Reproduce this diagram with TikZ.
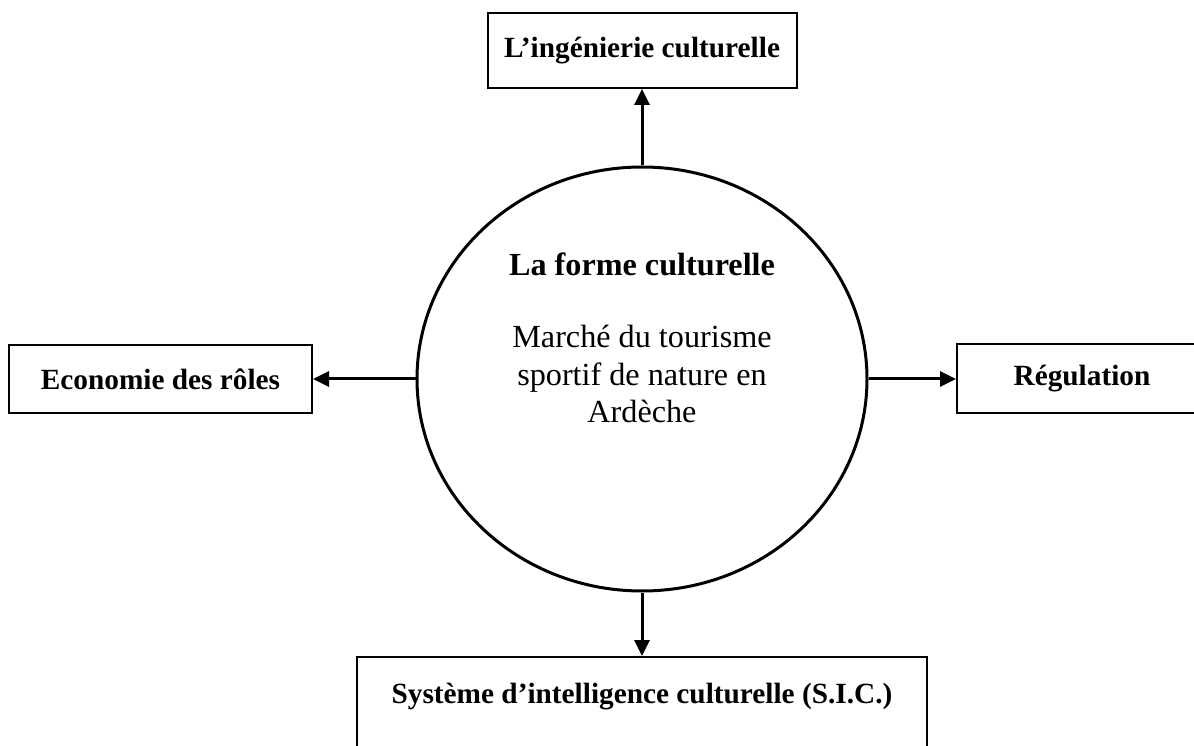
\documentclass[tikz,border=0pt]{standalone}
\usepackage{fontspec}
\setmainfont{Liberation Serif}
\usetikzlibrary{shapes.geometric,arrows.meta}

\begin{document}
\begin{tikzpicture}[x=1pt,y=1pt,
  box/.style={draw,line width=2pt,inner sep=0pt,font=\fontsize{29.3}{37.5}\selectfont\bfseries},
  link/.style={-{Triangle[length=16pt,width=15pt]},line width=3pt}]
  \useasboundingbox (0,0) rectangle (1194,745);
  \clip (0,0) rectangle (1194,745);
  \node[draw,ellipse,line width=3pt,minimum width=450pt,minimum height=424pt] (forme) at (642,366) {};
  \node[align=center,anchor=north,inner sep=0pt,font=\fontsize{32.2}{37.5}\selectfont] (marche) at (642,492) {\textbf{La forme culturelle}\\[34.5pt]Marché du tourisme\\sportif de nature en\\Ardèche};
  \node[box,minimum width=309pt,minimum height=75pt] (inge) at (642,694.5) {L’ingénierie culturelle};
  \node[box,minimum width=303pt,minimum height=68pt] (eco) at (160.5,366) {Economie des rôles};
  \node[box,minimum width=250pt,minimum height=69pt] (regul) at (1082,366) {Régulation};
  \node[box,minimum width=570pt,text height=20pt,text depth=40pt,inner ysep=26pt,anchor=base] (sic) at (642,42) {Système d’intelligence culturelle (S.I.C.)};
  \draw[link] (forme.north) -- (inge.south);
  \draw[link] (forme.west) -- (eco.east);
  \draw[link] (forme.east) -- (regul.west);
  \draw[link] (forme.south) -- (sic.north);
\end{tikzpicture}
\end{document}
